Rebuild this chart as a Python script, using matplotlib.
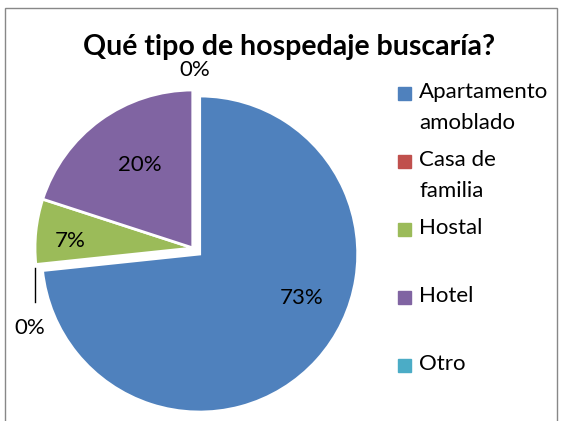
import numpy as np
import matplotlib
matplotlib.use('Agg')
import matplotlib.pyplot as plt
from matplotlib.patches import Rectangle

titulo = 'Qué tipo de hospedaje buscaría?'
categorias = ['Apartamento\namoblado', 'Casa de\nfamilia', 'Hostal', 'Hotel', 'Otro']
valores = [11, 0, 1, 3, 0]
colores = ['#4F81BD', '#C0504D', '#9BBB59', '#8064A2', '#4BACC6']

plt.rcParams['font.family'] = ['Lato', 'DejaVu Sans']

W, H = 562, 421
fig = plt.figure(figsize=(W / 100, H / 100), dpi=100)
ax = fig.add_axes([0, 0, 1, 1])

# pie en unidades de pixel (y hacia arriba); explode es absoluto
cx, cy, r = 193, 173, 158
explotar = [9, 0, 0, 0, 0]
wedges, _ = ax.pie(valores, colors=colores, startangle=90, counterclock=False,
                   explode=explotar, center=(cx, cy), radius=r, frame=True,
                   wedgeprops=dict(edgecolor='white', linewidth=2))
ax.set_xlim(0, W)
ax.set_ylim(0, H)
ax.axis('off')

# etiquetas de porcentaje
total = sum(valores)
pos_etiquetas = [(302, 298), (30, 328), (70, 241), (140, 165), (195, 70)]
for v, (x, y) in zip(valores, pos_etiquetas):
    ax.text(x, H - y, '%d%%' % round(100.0 * v / total), ha='center', va='center',
            fontsize=16, color='black')
# linea guia del 0% de la izquierda
ax.plot([35, 35], [H - 268, H - 302], color='black', lw=1)

fig.text(289 / W, 1 - 47 / H, titulo, ha='center', va='center',
         fontsize=20.5, fontweight='bold')

# leyenda estilo excel
for i, (lab, col) in enumerate(zip(categorias, colores)):
    y = 93 + i * 68
    ax.add_patch(Rectangle((398, H - y - 6.5), 13, 13, color=col, clip_on=False))
    ax.text(419, H - y + 11, lab, ha='left', va='top', fontsize=16,
            linespacing=1.7)

# borde
ax.add_patch(Rectangle((5, -5), 552, H - 8 + 5, fill=False, edgecolor='#888888',
                       lw=1, clip_on=False))

plt.savefig('out.png', dpi=100)
